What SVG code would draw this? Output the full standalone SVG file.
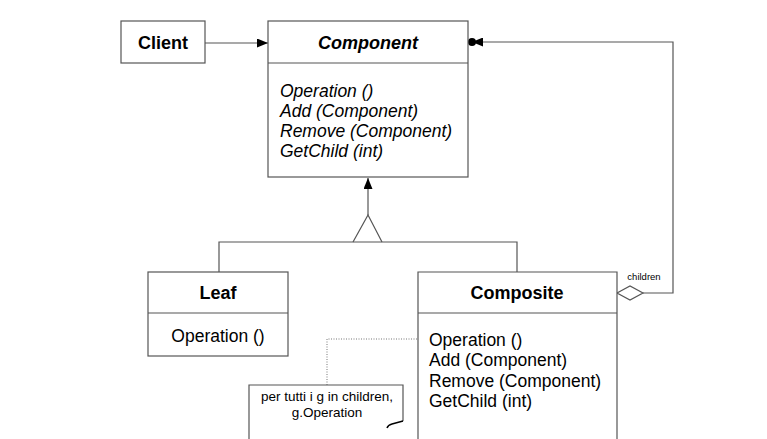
<svg xmlns="http://www.w3.org/2000/svg" width="767" height="439" viewBox="0 0 767 439">
<style>
.box{fill:#fff;stroke:#555;stroke-width:1.2}
.ln{fill:none;stroke:#555;stroke-width:1.2}
.t{font-family:"Liberation Sans",Arial,sans-serif;fill:#000}
.b{font-weight:bold;font-size:18px}
.op{font-size:17.5px}
.i{font-style:italic}
</style>
<defs>
<marker id="fa" markerWidth="11" markerHeight="9" refX="11" refY="4.5" orient="auto" markerUnits="userSpaceOnUse">
<path d="M0,0 L11,4.5 L0,9 Z" fill="#000"/>
</marker>
</defs>
<rect width="767" height="439" fill="#fff"/>
<g id="connectors">
<line class="ln" x1="205" y1="43" x2="268" y2="43" marker-end="url(#fa)"/>
<line class="ln" x1="368" y1="215" x2="368" y2="178" stroke="#000" marker-end="url(#fa)"/>
<path class="ln" d="M353,242 L368,215 L382,242"/>
<path class="ln" d="M219,272 V242 H517 V272"/>
<path class="ln" d="M643,293 H673 V42 H472" marker-end="url(#fa)"/>
<circle cx="472" cy="42" r="4" fill="#000"/>
<path d="M617,293 L630,286 L643,293 L630,300 Z" fill="#fff" stroke="#555" stroke-width="1.2"/>
<text class="t" x="644" y="280" font-size="9.5" text-anchor="middle">children</text>
<path d="M427,339 H327 V385" fill="none" stroke="#777" stroke-width="1" stroke-dasharray="1,1.5"/>
</g>
<g id="client">
<rect class="box" x="121" y="21" width="84" height="42"/>
<text class="t b" x="163" y="49" text-anchor="middle">Client</text>
</g>
<g id="component">
<rect class="box" x="268" y="21" width="200" height="156"/>
<line class="ln" x1="268" y1="63" x2="468" y2="63"/>
<text class="t b i" x="368" y="49" text-anchor="middle">Component</text>
<text class="t op i" x="280" y="97">Operation ()</text>
<text class="t op i" x="280" y="117">Add (Component)</text>
<text class="t op i" x="280" y="137">Remove (Component)</text>
<text class="t op i" x="280" y="157">GetChild (int)</text>
</g>
<g id="leaf">
<rect class="box" x="148" y="272" width="140" height="84"/>
<line class="ln" x1="148" y1="313" x2="288" y2="313"/>
<text class="t b" x="218" y="299" text-anchor="middle">Leaf</text>
<text class="t op" x="218" y="342" text-anchor="middle">Operation ()</text>
</g>
<g id="composite">
<path class="box" d="M418,440 V272 H617 V440"/>
<line class="ln" x1="418" y1="313" x2="617" y2="313"/>
<text class="t b" x="517" y="299" text-anchor="middle">Composite</text>
<text class="t op" x="429" y="346">Operation ()</text>
<text class="t op" x="429" y="366">Add (Component)</text>
<text class="t op" x="429" y="387">Remove (Component)</text>
<text class="t op" x="429" y="407">GetChild (int)</text>
</g>
<g id="note">
<path class="box" d="M249,440 V385 H403 V421"/>
<path d="M403,421 L392,424 Q388,425 387,428" fill="none" stroke="#000" stroke-width="1.5"/>
<text class="t" x="327" y="401" font-size="13.5" text-anchor="middle">per tutti i g in children,</text>
<text class="t" x="327" y="417" font-size="13.5" text-anchor="middle">g.Operation</text>
</g>
</svg>
